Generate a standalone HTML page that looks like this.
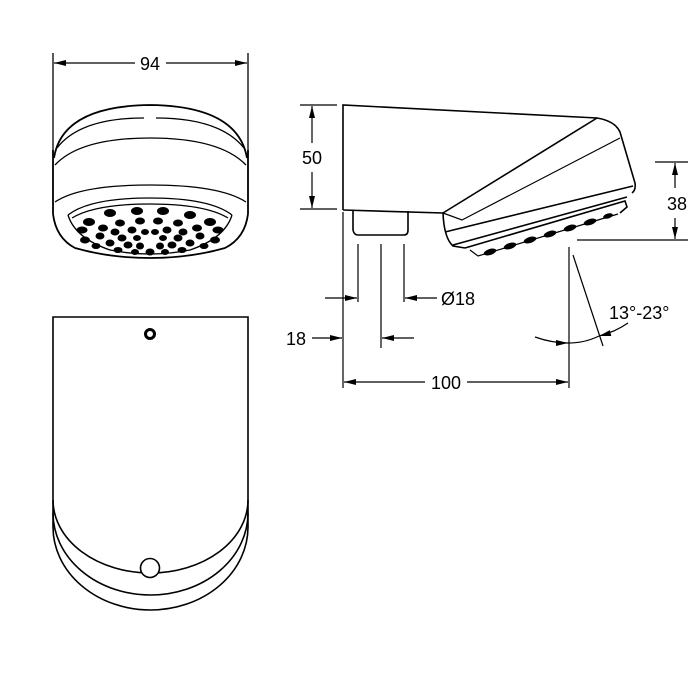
<!DOCTYPE html>
<html><head><meta charset="utf-8"><style>
html,body{margin:0;padding:0;background:#fff;width:700px;height:700px;overflow:hidden}
text{font-family:"Liberation Sans",sans-serif;font-size:18px;fill:#000}
</style></head><body>
<svg width="700" height="700" viewBox="0 0 700 700" xmlns="http://www.w3.org/2000/svg">
<defs>
<marker id="a" viewBox="0 0 12 6" refX="12" refY="3" markerWidth="12" markerHeight="6" orient="auto" markerUnits="userSpaceOnUse"><path d="M0,0 L12,3 L0,6 z" fill="#000"/></marker>
</defs>
<g fill="none" stroke="#000" stroke-width="1.3">
<!-- top view -->
<line x1="53" y1="53" x2="53" y2="155"/><line x1="248" y1="53" x2="248" y2="155"/>
<line x1="135" y1="63" x2="54" y2="63" marker-end="url(#a)"/>
<line x1="166" y1="63" x2="247" y2="63" marker-end="url(#a)"/>
<path d="M54,158 Q62,106 150,105 Q238,106 247,158" stroke-width="1.8"/>
<path d="M57,148 Q80,118 144,118 M156,118 Q220,118 244,148"/>
<path d="M55,165 Q80,138 150,138 Q220,138 246,165"/>
<path d="M53,150 L53,214 M248,150 L248,214" stroke-width="1.8"/>
<path d="M55,202 Q80,185 150,185 Q220,185 246,202"/>
<path d="M53,214 Q56,238 75,248 Q110,258 150,258 Q190,258 225,248 Q245,238 248,214" stroke-width="1.8"/>
<path d="M68,215 Q90,198 150,198 Q210,198 232,215"/>
<path d="M72,218 Q95,204 150,204 Q205,204 228,218"/>
<path d="M68,215 Q75,238 110,250 Q150,258 190,250 Q225,238 232,215" stroke-width="1.3"/>
</g>
<g fill="#000" stroke="#000" stroke-width="1">
<ellipse cx="110" cy="213" rx="5.5" ry="3.5"/><ellipse cx="137" cy="211" rx="5.5" ry="3.5"/><ellipse cx="163" cy="211" rx="5.5" ry="3.5"/><ellipse cx="190" cy="215" rx="5.5" ry="3.5"/>
<ellipse cx="210" cy="222" rx="5.5" ry="3.5"/><ellipse cx="218" cy="230" rx="5" ry="3"/><ellipse cx="82" cy="230" rx="5" ry="3"/><ellipse cx="89" cy="222" rx="5.5" ry="3.5"/>
<ellipse cx="120" cy="223" rx="4.5" ry="3"/><ellipse cx="140" cy="221" rx="4.5" ry="3"/><ellipse cx="158" cy="221" rx="4.5" ry="3"/><ellipse cx="178" cy="223" rx="4.5" ry="3"/>
<ellipse cx="197" cy="228" rx="4.5" ry="3"/><ellipse cx="103" cy="228" rx="4.5" ry="3"/><ellipse cx="215" cy="240" rx="4.5" ry="3"/><ellipse cx="85" cy="240" rx="4.5" ry="3"/>
<ellipse cx="100" cy="236" rx="4" ry="3"/><ellipse cx="115" cy="232" rx="4" ry="3"/><ellipse cx="132" cy="230" rx="4" ry="3"/><ellipse cx="167" cy="230" rx="4" ry="3"/>
<ellipse cx="183" cy="232" rx="4" ry="3"/><ellipse cx="200" cy="236" rx="4" ry="3"/><ellipse cx="145" cy="232" rx="3.5" ry="2.5"/><ellipse cx="155" cy="232" rx="3.5" ry="2.5"/>
<ellipse cx="122" cy="238" rx="4" ry="3"/><ellipse cx="137" cy="238" rx="3.5" ry="2.5"/><ellipse cx="163" cy="238" rx="3.5" ry="2.5"/><ellipse cx="178" cy="238" rx="4" ry="3"/>
<ellipse cx="110" cy="243" rx="4" ry="3"/><ellipse cx="190" cy="243" rx="4" ry="3"/><ellipse cx="128" cy="245" rx="4" ry="3"/><ellipse cx="172" cy="245" rx="4" ry="3"/>
<ellipse cx="140" cy="246" rx="3.5" ry="3"/><ellipse cx="160" cy="246" rx="3.5" ry="3"/><ellipse cx="150" cy="252" rx="4" ry="3"/><ellipse cx="96" cy="246" rx="4" ry="2.5"/><ellipse cx="204" cy="246" rx="4" ry="2.5"/>
<ellipse cx="118" cy="250" rx="4" ry="2.5"/><ellipse cx="182" cy="250" rx="4" ry="2.5"/><ellipse cx="135" cy="252" rx="3.5" ry="2.5"/><ellipse cx="165" cy="252" rx="3.5" ry="2.5"/>
</g>
<text x="150" y="70" text-anchor="middle">94</text>
<!-- bottom view -->
<g fill="none" stroke="#000" stroke-width="1.6">
<path d="M53,500 L53,317 L248,317 L248,500"/>
<path d="M53,500 A97.5,73 0 0 0 248,500"/>
<path d="M53,500 L53,513 A97.5,82 0 0 0 248,513 L248,500"/>
<path d="M53,513 L53,527 A97.5,83 0 0 0 248,527 L248,513"/>
<circle cx="150" cy="568" r="9.5" fill="#fff"/>
<circle cx="150" cy="334" r="4.5" stroke-width="3"/>
</g>
<!-- side view -->
<g fill="none" stroke="#000" stroke-width="1.6">
<path d="M343,210 L343,105 L597,118 Q615,121 620,132 L635,183 Q636,190 632,193"/>
<path d="M343,210 L443,213 Q444,238 453,246 L465,248"/>
<path d="M443,213 L597,118"/>
<path d="M443,213 L462,220 L620,138" stroke-width="1.2"/>
<path d="M445,232 L633,186"/>
<path d="M453,245 L627,197"/>
<path d="M465,248 L625,201 L627,207 L620,213"/>
<path d="M470,250 L478,256 L618,214" stroke-width="1.2"/>
<path d="M353,211 L353,230 Q354,235 358,235 L404,235 Q408,235 408,230 L408,211"/>
</g>
<g fill="#000">
<ellipse cx="490" cy="252" rx="6.5" ry="3" transform="rotate(-17 490 252)"/>
<ellipse cx="510" cy="246" rx="6.5" ry="3" transform="rotate(-17 510 246)"/>
<ellipse cx="530" cy="240" rx="6.5" ry="3" transform="rotate(-17 530 240)"/>
<ellipse cx="550" cy="234" rx="6.5" ry="3" transform="rotate(-17 550 234)"/>
<ellipse cx="570" cy="228" rx="6.5" ry="3" transform="rotate(-17 570 228)"/>
<ellipse cx="590" cy="222" rx="6.5" ry="3" transform="rotate(-17 590 222)"/>
<ellipse cx="608" cy="216" rx="5" ry="2.5" transform="rotate(-17 608 216)"/>
</g>
<g fill="none" stroke="#000" stroke-width="1.2">
<line x1="300" y1="105" x2="337" y2="105"/><line x1="300" y1="209" x2="337" y2="209"/>
<line x1="312" y1="143" x2="312" y2="106" marker-end="url(#a)"/>
<line x1="312" y1="172" x2="312" y2="208" marker-end="url(#a)"/>
<line x1="655" y1="162" x2="688" y2="162"/><line x1="577" y1="240" x2="688" y2="240"/>
<line x1="675" y1="188" x2="675" y2="163" marker-end="url(#a)"/>
<line x1="675" y1="218" x2="675" y2="239" marker-end="url(#a)"/>
<line x1="343" y1="212" x2="343" y2="388"/>
<line x1="358" y1="244" x2="358" y2="302"/>
<line x1="381" y1="244" x2="381" y2="348"/>
<line x1="404" y1="244" x2="404" y2="302"/>
<line x1="325" y1="298" x2="357" y2="298" marker-end="url(#a)"/>
<line x1="437" y1="298" x2="405" y2="298" marker-end="url(#a)"/>
<line x1="312" y1="338" x2="342" y2="338" marker-end="url(#a)"/>
<line x1="414" y1="338" x2="382" y2="338" marker-end="url(#a)"/>
<line x1="569" y1="247" x2="569" y2="388"/>
<line x1="573" y1="255" x2="603" y2="346"/>
<line x1="425" y1="382" x2="344" y2="382" marker-end="url(#a)"/>
<line x1="467" y1="382" x2="568" y2="382" marker-end="url(#a)"/>
<path d="M535,337 Q552,343 568,343" marker-end="url(#a)"/>
<path d="M628,323 Q615,332 599,336" marker-end="url(#a)"/>
<path d="M568,343 Q585,343 599,336"/>
</g>
<text x="312" y="164" text-anchor="middle">50</text>
<text x="677" y="210" text-anchor="middle">38</text>
<text x="441" y="305">Ø18</text>
<text x="286" y="345">18</text>
<text x="446" y="389" text-anchor="middle">100</text>
<text x="609" y="319">13°-23°</text>
</svg>
</body></html>
